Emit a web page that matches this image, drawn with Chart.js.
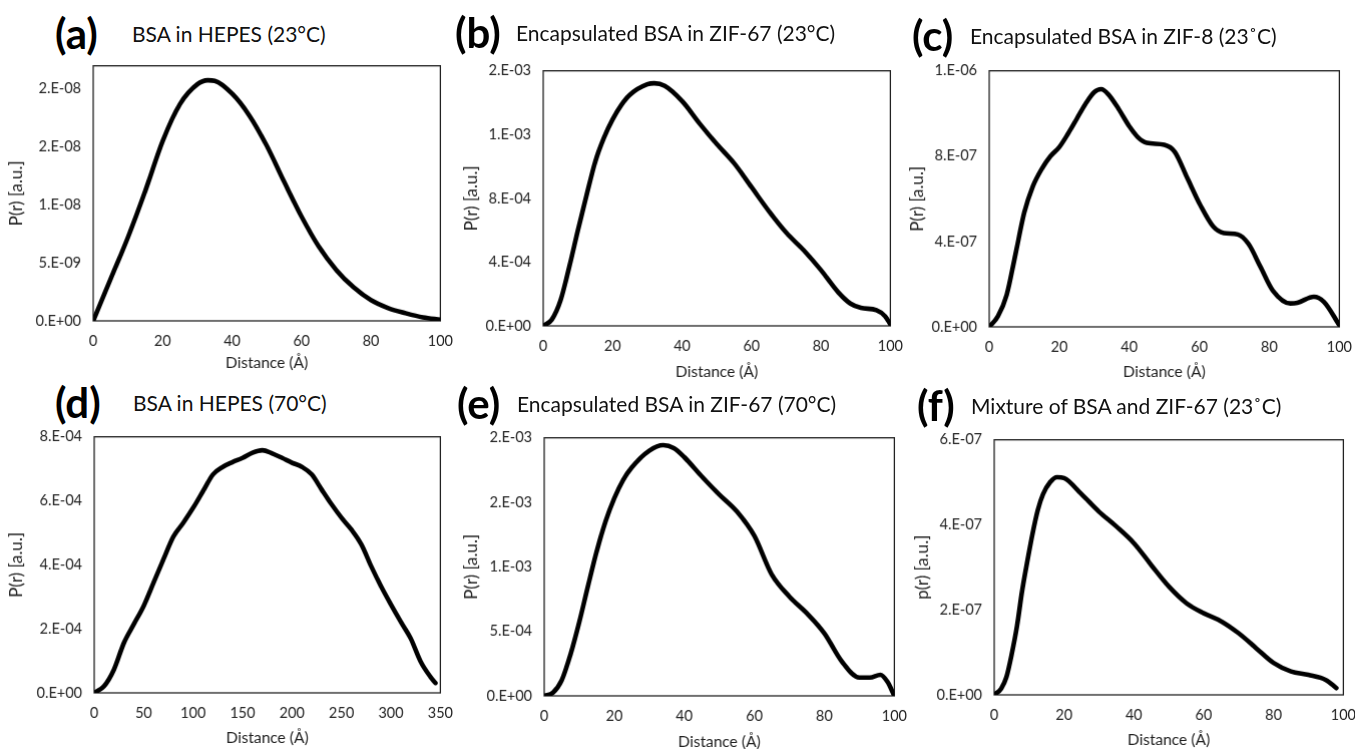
<!DOCTYPE html>
<html>
<head>
<meta charset="utf-8">
<script src="https://cdn.jsdelivr.net/npm/chart.js@4.4.1/dist/chart.umd.min.js"></script>
<style>
  html, body { margin: 0; background: #fff; overflow: hidden; }
  #fig { position: relative; width: 1355px; height: 749px; font-family: Lato, "Open Sans", sans-serif; }
  #fig canvas { position: absolute; }
  .tag { position: absolute; font-weight: 700; font-size: 42px; color: #000; transform: translateY(-50%); white-space: nowrap; }
  .ttl { position: absolute; font-size: 21px; color: #111; transform: translateY(-50%); white-space: nowrap; }
</style>
</head>
<body>
<div id="fig"></div>
<script>
// P(r) curves, distance in Å
const xA = [0, 5, 10, 15, 20, 25, 30, 33, 35, 40, 45, 50, 55, 60, 65, 70, 75, 80, 85, 90, 95, 100];
const yA = [0, 0.36e-8, 0.72e-8, 1.12e-8, 1.55e-8, 1.87e-8, 2.04e-8, 2.075e-8, 2.07e-8, 1.96e-8, 1.77e-8,
            1.51e-8, 1.2e-8, 0.9e-8, 0.64e-8, 0.44e-8, 0.29e-8, 0.18e-8, 0.11e-8, 0.066e-8, 0.03e-8, 0.01e-8];

const xB = [0, 2.5, 5, 7.5, 10, 12.5, 15, 17.5, 20, 22.5, 25, 30, 32, 35, 40, 45, 50, 55, 60, 65, 70, 75, 80, 85,
            88.5, 91.5, 96, 98.5, 100];
const yB = [0, 0.04e-3, 0.16e-3, 0.37e-3, 0.6e-3, 0.82e-3, 1.03e-3, 1.18e-3, 1.295e-3, 1.385e-3, 1.45e-3, 1.515e-3,
            1.522e-3, 1.505e-3, 1.41e-3, 1.27e-3, 1.14e-3, 1.02e-3, 0.87e-3, 0.72e-3, 0.585e-3, 0.475e-3, 0.35e-3,
            0.21e-3, 0.14e-3, 0.113e-3, 0.098e-3, 0.06e-3, 0.01e-3];

const xC = [0, 2.5, 5, 7.5, 10, 12.5, 15, 17.5, 20, 22.5, 25, 27.5, 30, 32, 34, 37, 40, 42.5, 45, 50, 53, 56.5,
            60.3, 64, 67, 71, 74, 77.5, 81, 86, 88, 92.7, 95.6, 100];
const yC = [0, 0.05e-6, 0.15e-6, 0.34e-6, 0.535e-6, 0.66e-6, 0.74e-6, 0.8e-6, 0.842e-6, 0.905e-6, 0.975e-6, 1.045e-6,
            1.1e-6, 1.114e-6, 1.09e-6, 1.02e-6, 0.94e-6, 0.888e-6, 0.862e-6, 0.853e-6, 0.82e-6, 0.7e-6, 0.57e-6,
            0.47e-6, 0.44e-6, 0.433e-6, 0.39e-6, 0.28e-6, 0.17e-6, 0.11e-6, 0.113e-6, 0.141e-6, 0.117e-6, 0.008e-6];

const xD = [0, 10, 20, 30, 40, 50, 60, 70, 80, 90, 100, 110, 120, 130, 140, 150, 160, 170, 180, 190, 200,
            210, 220, 230, 240, 250, 260, 270, 280, 290, 300, 310, 320, 330, 340, 345];
const yD = [0, 0.21e-4, 0.73e-4, 1.56e-4, 2.14e-4, 2.71e-4, 3.44e-4, 4.17e-4, 4.875e-4, 5.31e-4, 5.78e-4, 6.30e-4,
            6.82e-4, 7.06e-4, 7.21e-4, 7.34e-4, 7.50e-4, 7.58e-4, 7.48e-4, 7.34e-4, 7.19e-4, 7.06e-4, 6.82e-4,
            6.35e-4, 5.89e-4, 5.47e-4, 5.10e-4, 4.64e-4, 3.96e-4, 3.33e-4, 2.76e-4, 2.22e-4, 1.7e-4, 0.98e-4, 0.5e-4, 0.31e-4];

const xE = [0, 2.5, 5, 7.5, 10, 12.5, 15, 17.5, 20, 22.5, 25, 30, 34, 37, 40, 45, 50, 55, 60, 65, 70, 75, 80,
            85, 90, 93, 96, 98, 100];
const yE = [0, 0.025e-3, 0.12e-3, 0.32e-3, 0.57e-3, 0.85e-3, 1.12e-3, 1.35e-3, 1.53e-3, 1.67e-3, 1.77e-3, 1.9e-3,
            1.943e-3, 1.92e-3, 1.85e-3, 1.7e-3, 1.56e-3, 1.43e-3, 1.24e-3, 0.94e-3, 0.77e-3, 0.64e-3, 0.485e-3,
            0.266e-3, 0.142e-3, 0.142e-3, 0.163e-3, 0.11e-3, 0];

const xF = [0, 2, 3.5, 5, 6.5, 8, 9.5, 11, 12.5, 14, 16, 18, 20, 25, 30, 35, 40, 45, 50, 55, 60, 65, 70, 75, 80,
            85, 90, 95, 98];
const yF = [0, 0.15e-7, 0.42e-7, 0.95e-7, 1.6e-7, 2.45e-7, 3.15e-7, 3.8e-7, 4.35e-7, 4.72e-7, 5.0e-7, 5.12e-7,
            5.1e-7, 4.72e-7, 4.31e-7, 3.96e-7, 3.57e-7, 3.05e-7, 2.55e-7, 2.16e-7, 1.92e-7, 1.73e-7, 1.45e-7,
            1.1e-7, 0.75e-7, 0.55e-7, 0.47e-7, 0.35e-7, 0.16e-7];

// axis ticks (values and the labels printed for them)
const xTicks100 = [0, 20, 40, 60, 80, 100];
const xTicks350 = [0, 50, 100, 150, 200, 250, 300, 350];

const yTicksA = [0, 5e-9, 1e-8, 1.5e-8, 2e-8];
const yLabelsA = ["0.E+00", "5.E-09", "1.E-08", "2.E-08", "2.E-08"];
const yTicksB = [0, 4e-4, 8e-4, 1.2e-3, 1.6e-3];
const yLabelsB = ["0.E+00", "4.E-04", "8.E-04", "1.E-03", "2.E-03"];
const yTicksC = [0, 4e-7, 8e-7, 1.2e-6];
const yLabelsC = ["0.E+00", "4.E-07", "8.E-07", "1.E-06"];
const yTicksD = [0, 2e-4, 4e-4, 6e-4, 8e-4];
const yLabelsD = ["0.E+00", "2.E-04", "4.E-04", "6.E-04", "8.E-04"];
const yTicksE = [0, 5e-4, 1e-3, 1.5e-3, 2e-3];
const yLabelsE = ["0.E+00", "5.E-04", "1.E-03", "2.E-03", "2.E-03"];
const yTicksF = [0, 2e-7, 4e-7, 6e-7];
const yLabelsF = ["0.E+00", "2.E-07", "4.E-07", "6.E-07"];

const FONT = "Lato, 'Open Sans', sans-serif";
const PAD_L = 90, PAD_T = 12, PAD_R = 14, PAD_B = 54;

// box = plot area [left, top, right, bottom] on the page
const panels = [
  { tag: "(a)", title: "BSA in HEPES (23°C)", x: xA, y: yA, xMax: 100, xTicks: xTicks100,
    yMax: 2.2e-8, yTicks: yTicksA, yLabels: yLabelsA, yTitle: "P(r) [a.u.]",
    box: [93, 66, 440, 321], tagAt: [55, 33], titleAt: [132, 33], yGap: 76, xGap: 42 },
  { tag: "(b)", title: "Encapsulated BSA in ZIF-67 (23°C)", x: xB, y: yB, xMax: 100, xTicks: xTicks100,
    yMax: 1.6e-3, yTicks: yTicksB, yLabels: yLabelsB, yTitle: "P(r) [a.u.]",
    box: [543, 71, 890, 326], tagAt: [455, 32], titleAt: [516, 32], yGap: 71, xGap: 46 },
  { tag: "(c)", title: "Encapsulated BSA in ZIF-8 (23˚C)", x: xC, y: yC, xMax: 100, xTicks: xTicks100,
    yMax: 1.2e-6, yTicks: yTicksC, yLabels: yLabelsC, yTitle: "P(r) [a.u.]",
    box: [989, 71, 1339, 327], tagAt: [912, 35], titleAt: [970, 35], yGap: 71, xGap: 45 },
  { tag: "(d)", title: "BSA in HEPES (70°C)", x: xD, y: yD, xMax: 350, xTicks: xTicks350,
    yMax: 8e-4, yTicks: yTicksD, yLabels: yLabelsD, yTitle: "P(r) [a.u.]",
    box: [94, 437, 440, 693], tagAt: [55, 402], titleAt: [133, 402], yGap: 77, xGap: 45 },
  { tag: "(e)", title: "Encapsulated BSA in ZIF-67 (70°C)", x: xE, y: yE, xMax: 100, xTicks: xTicks100,
    yMax: 2e-3, yTicks: yTicksE, yLabels: yLabelsE, yTitle: "P(r) [a.u.]",
    box: [544, 438, 894, 696], tagAt: [457, 403], titleAt: [517, 403], yGap: 72, xGap: 46 },
  { tag: "(f)", title: "Mixture of BSA and ZIF-67 (23˚C)", x: xF, y: yF, xMax: 100, xTicks: xTicks100,
    yMax: 6e-7, yTicks: yTicksF, yLabels: yLabelsF, yTitle: "p(r) [a.u.]",
    box: [994, 440, 1343, 695], tagAt: [917, 405], titleAt: [971, 405], yGap: 71, xGap: 45 },
];

// thin frame round the plot area, drawn under the curve
const frame = {
  id: "frame",
  beforeDatasetsDraw(chart) {
    const { ctx, chartArea: a } = chart;
    ctx.save();
    ctx.strokeStyle = "#222";
    ctx.lineWidth = 1.3;
    ctx.strokeRect(a.left, a.top, a.right - a.left, a.bottom - a.top);
    ctx.restore();
  },
};

const fig = document.getElementById("fig");

const addText = (cls, text, at) => {
  const el = document.createElement("div");
  el.className = cls;
  el.textContent = text;
  el.style.left = at[0] + "px";
  el.style.top = at[1] + "px";
  fig.appendChild(el);
};

const makeConfig = (p) => {
  const tickFont = { family: FONT, size: 14.5 };
  const xTitleFont = { family: FONT, size: 15.5 };
  const yTitleFont = { family: FONT, size: 17 };
  return {
    type: "line",
    data: {
      datasets: [
        {
          data: p.x.map((v, i) => ({ x: v, y: p.y[i] })),
          borderColor: "#000",
          borderWidth: 4.6,
          pointRadius: 0,
          fill: false,
          cubicInterpolationMode: "monotone",
          borderCapStyle: "round",
          borderJoinStyle: "round",
        },
      ],
    },
    options: {
      responsive: false,
      maintainAspectRatio: false,
      animation: false,
      devicePixelRatio: 1,
      layout: { padding: { top: PAD_T, right: PAD_R, left: 0, bottom: 0 } },
      plugins: { legend: { display: false }, tooltip: { enabled: false } },
      scales: {
        x: {
          type: "linear",
          min: 0,
          max: p.xMax,
          grid: { display: false, drawTicks: false },
          border: { display: false },
          afterBuildTicks: (s) => { s.ticks = p.xTicks.map((v) => ({ value: v })); },
          afterFit: (s) => { s.height = PAD_B; },
          ticks: { padding: 12, color: "#222", font: tickFont, maxRotation: 0, autoSkip: false, callback: (v) => v },
          title: {
            display: true,
            text: "Distance (Å)",
            color: "#222",
            font: xTitleFont,
            padding: { top: 0, bottom: PAD_B - p.xGap - xTitleFont.size * 0.6 },
          },
        },
        y: {
          type: "linear",
          min: 0,
          max: p.yMax,
          grid: { display: false, drawTicks: false },
          border: { display: false },
          afterBuildTicks: (s) => { s.ticks = p.yTicks.map((v) => ({ value: v })); },
          afterFit: (s) => { s.width = PAD_L; },
          ticks: { padding: 12, color: "#222", font: tickFont, autoSkip: false, callback: (v, i) => p.yLabels[i] },
          title: {
            display: true,
            text: p.yTitle,
            color: "#222",
            font: yTitleFont,
            padding: { top: PAD_L - p.yGap - yTitleFont.size * 0.6, bottom: 0 },
          },
        },
      },
    },
    plugins: [frame],
  };
};

panels.forEach((p) => {
  const [l, t, r, b] = p.box;
  addText("tag", p.tag, p.tagAt);
  addText("ttl", p.title, p.titleAt);

  const cv = document.createElement("canvas");
  fig.appendChild(cv);
  let w = r - l + PAD_L + PAD_R;
  let h = b - t + PAD_T + PAD_B;
  cv.width = w;
  cv.height = h;

  // first pass: see where the layout puts the plot area, then size the canvas so it lands on the box
  const probe = new Chart(cv, makeConfig(p));
  const a = probe.chartArea;
  const offL = a.left, offT = a.top;
  w += (r - l) - (a.right - a.left);
  h += (b - t) - (a.bottom - a.top);
  probe.destroy();

  cv.width = w;
  cv.height = h;
  cv.style.width = w + "px";
  cv.style.height = h + "px";
  cv.style.left = l - offL + "px";
  cv.style.top = t - offT + "px";
  new Chart(cv, makeConfig(p));
});
</script>
</body>
</html>
